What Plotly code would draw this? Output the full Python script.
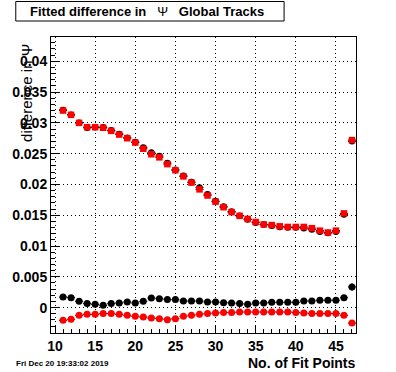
import plotly.graph_objects as go

# ---- data ----
fit_points = list(range(11, 48))

upper_black = [0.0321, 0.0313, 0.0300, 0.0292, 0.0293, 0.0293, 0.0288, 0.0282, 0.0276, 0.0269,
               0.0260, 0.0252, 0.0246, 0.0235, 0.0224, 0.0214, 0.0204, 0.0195, 0.0184, 0.0173,
               0.0164, 0.0156, 0.0149, 0.0143, 0.0138, 0.0135, 0.0133, 0.0131, 0.0130, 0.0130,
               0.0129, 0.0127, 0.0123, 0.0121, 0.0123, 0.0151, 0.0270]
upper_red = [0.0320, 0.0313, 0.0300, 0.0293, 0.0293, 0.0292, 0.0287, 0.0281, 0.0275, 0.0268,
             0.0258, 0.0249, 0.0244, 0.0233, 0.0223, 0.0213, 0.0203, 0.0192, 0.0182, 0.0172,
             0.0163, 0.0155, 0.0149, 0.0144, 0.0139, 0.0135, 0.0134, 0.0132, 0.0131, 0.0131,
             0.0131, 0.0129, 0.0125, 0.0122, 0.0125, 0.0153, 0.0272]
lower_black = [0.00172, 0.00162, 0.00102, 0.00065, 0.00054, 0.00037, 0.00065, 0.00075, 0.00091, 0.00075,
               0.00102, 0.00156, 0.00146, 0.00130, 0.00130, 0.00107, 0.00107, 0.00107, 0.00091, 0.00091,
               0.00081, 0.00075, 0.00065, 0.00054, 0.00075, 0.00075, 0.00086, 0.00086, 0.00086, 0.00086,
               0.00107, 0.00107, 0.00119, 0.00119, 0.00119, 0.00162, 0.00335]
lower_red = [-0.00206, -0.00190, -0.00125, -0.00109, -0.00109, -0.00097, -0.00097, -0.00109, -0.00125, -0.00141,
             -0.00153, -0.00169, -0.00179, -0.00195, -0.00179, -0.00141, -0.00125, -0.00109, -0.00097, -0.00088,
             -0.00081, -0.00081, -0.00071, -0.00071, -0.00071, -0.00071, -0.00071, -0.00071, -0.00071, -0.00081,
             -0.00088, -0.00097, -0.00097, -0.00097, -0.00097, -0.00125, -0.00250]

err_upper_black = [0.0001] * 36 + [0.0003]
err_upper_red = [0.0001] * 36 + [0.0003]
err_lower_black = [0.0001] * 36 + [0.0006]
err_lower_red = [0.0001] * 36 + [0.0003]

x_ticks = [10, 15, 20, 25, 30, 35, 40, 45]

FONT = "Liberation Sans, Arial, Helvetica, sans-serif"

L, R, T, B = 40, 40, 37, 39
W, H = 396, 372
PW, PH = W - L - R, H - T - B


def px2x(px):
    return (px - L) / PW


def px2y(py):
    return (H - B - py) / PH


fig = go.Figure()


def add_series(y, err, color, symbol, size):
    fig.add_trace(go.Scatter(
        x=fit_points, y=y, mode="markers",
        marker=dict(color=color, symbol=symbol, size=size, line=dict(width=0)),
        error_x=dict(type="constant", value=0.5, color="black", thickness=1, width=0),
        error_y=dict(type="data", array=err, color="black", thickness=1, width=0),
        showlegend=False,
    ))


add_series(upper_black, err_upper_black, "black", "circle", 6.5)
add_series(upper_red, err_upper_red, "red", "square", 6.5)
add_series(lower_black, err_lower_black, "black", "circle", 7)
add_series(lower_red, err_lower_red, "red", "circle", 7)

axis_common = dict(
    showline=True, linecolor="black", linewidth=1, mirror=True,
    ticks="inside", tickcolor="black", ticklen=8, tickwidth=1,
    showgrid=True, gridcolor="black", griddash="1px,3px", gridwidth=1,
    zeroline=False,
    tickfont=dict(family=FONT, size=14, color="black", weight="bold"),
)

fig.update_xaxes(
    range=[9.5, 47.5], tickmode="array", tickvals=x_ticks,
    minor=dict(dtick=1, ticklen=4, tickcolor="black", ticks="inside", showgrid=False),
    **axis_common,
)
fig.update_yaxes(
    range=[-0.00412, 0.04394], dtick=0.005, tick0=0,
    minor=dict(dtick=0.001, ticklen=4, tickcolor="black", ticks="inside", showgrid=False),
    **axis_common,
)

fig.add_shape(type="rect", xref="paper", yref="paper",
              x0=px2x(3.5), x1=px2x(281.5), y0=px2y(21), y1=px2y(1.5),
              line=dict(color="black", width=1), fillcolor="white", layer="above")

annotations = [
    dict(text="<b>Fitted difference in</b>\u00a0\u00a0\u00a0Ψ\u00a0\u00a0\u00a0<b>Global Tracks</b>",
         x=px2x(139.5), y=px2y(11.5), xanchor="center", yanchor="middle",
         font=dict(family=FONT, size=13, color="black")),
    dict(text="difference in Ψ", x=px2x(14), y=px2y(43), xanchor="center", yanchor="top",
         textangle=-90, font=dict(family=FONT, size=15, color="black")),
    dict(text="No. of Fit Points", x=px2x(357), y=px2y(363), xanchor="right", yanchor="middle",
         font=dict(family=FONT, size=14, color="black", weight="bold")),
    dict(text="Fri Dec 20 19:33:02 2019", x=px2x(3), y=px2y(363), xanchor="left", yanchor="middle",
         font=dict(family=FONT, size=8, color="black", weight="bold")),
]
for a in annotations:
    fig.add_annotation(xref="paper", yref="paper", showarrow=False, borderpad=0, **a)

fig.update_layout(
    width=W, height=H,
    margin=dict(l=L, r=R, t=T, b=B, pad=0),
    paper_bgcolor="white", plot_bgcolor="white",
    showlegend=False,
)

fig.write_html("out.html",
               config={"displayModeBar": False},
               post_script="document.body.style.margin='0';document.body.style.overflow='hidden';")
